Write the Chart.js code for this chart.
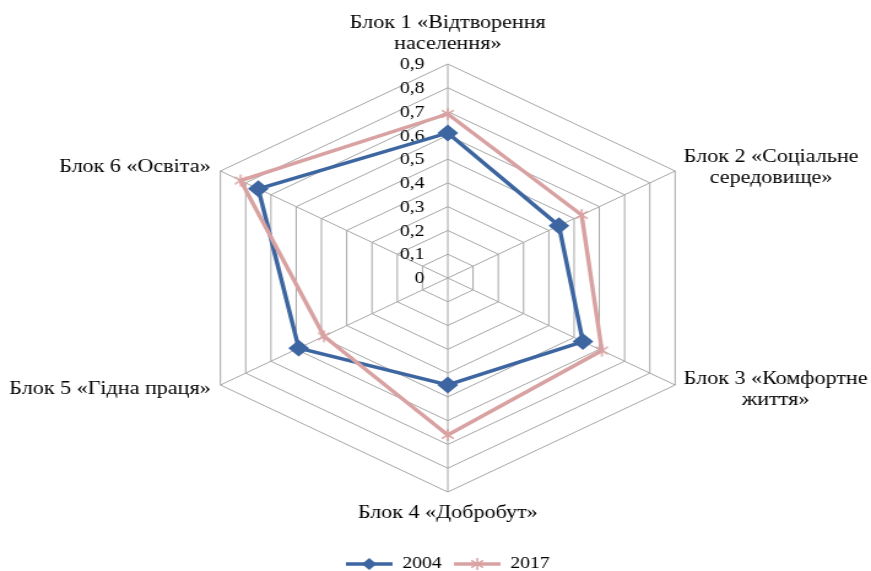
<!DOCTYPE html>
<html>
<head>
<meta charset="utf-8">
<script src="https://cdn.jsdelivr.net/npm/chart.js@4/dist/chart.umd.min.js"></script>
<style>
    body { margin: 0; background: #fff; overflow: hidden; }
    #wrap { position: absolute; left: 0; top: 0; width: 710px; height: 571px; transform: scaleX(1.22676); transform-origin: 0 0; }
</style>
</head>
<body>
<div id="wrap"><canvas id="chartBloques"></canvas></div>
<script>
// Datos del gráfico
const categories = [
    ['Блок 1 «Відтворення', 'населення»'],
    ['Блок 2 «Соціальне', 'середовище»'],
    ['Блок 3 «Комфортне', 'життя»'],
    ['Блок 4 «Добробут»'],
    ['Блок 5 «Гідна праця»'],
    ['Блок 6 «Освіта»']
];
const seriesNames = ['2004', '2017'];
const values2004 = [0.61, 0.44, 0.535, 0.45, 0.59, 0.75];
const values2017 = [0.69, 0.53, 0.61, 0.66, 0.49, 0.82];
const tickLabels = ['0', '0,1', '0,2', '0,3', '0,4', '0,5', '0,6', '0,7', '0,8', '0,9'];

const azul = '#3d66a1';
const rosa = '#d9a2a2';
const gris = '#a6a6a6';
const fuente = '"Liberation Serif", "Times New Roman", serif';

// marcador estrella (X con línea vertical)
function estrella(size, color) {
    const c = document.createElement('canvas');
    c.width = size; c.height = size;
    const g = c.getContext('2d');
    g.strokeStyle = color;
    g.lineWidth = 1.5;
    const m = size / 2, r = size / 2 - 1;
    g.beginPath();
    g.moveTo(m, m - r); g.lineTo(m, m + r);
    g.moveTo(m - r * 0.8, m - r * 0.6); g.lineTo(m + r * 0.8, m + r * 0.6);
    g.moveTo(m - r * 0.8, m + r * 0.6); g.lineTo(m + r * 0.8, m - r * 0.6);
    g.stroke();
    return c;
}

// iconos de leyenda: línea con marcador
function iconoLeyenda(color, tipo) {
    const c = document.createElement('canvas');
    c.width = 38; c.height = 14;
    const g = c.getContext('2d');
    g.strokeStyle = color;
    g.lineWidth = 3.5;
    g.beginPath();
    g.moveTo(0, 7); g.lineTo(38, 7);
    g.stroke();
    if (tipo === 'rombo') {
        g.fillStyle = color;
        g.beginPath();
        g.moveTo(19, 1); g.lineTo(25, 7); g.lineTo(19, 13); g.lineTo(13, 7);
        g.closePath();
        g.fill();
    } else {
        g.drawImage(estrella(14, color), 12, 0);
    }
    return c;
}
const iconos = [iconoLeyenda(azul, 'rombo'), iconoLeyenda(rosa, 'estrella')];

// etiquetas de ejes y de categorías
const etiquetas = {
    id: 'etiquetas',
    beforeDatasetsDraw(chart) {
        const s = chart.scales.r;
        const ctx = chart.ctx;
        ctx.save();
        ctx.font = '16px ' + fuente;
        ctx.fillStyle = '#000';
        ctx.textAlign = 'right';
        ctx.textBaseline = 'middle';
        s.ticks.forEach((t, i) => {
            const y = s.yCenter - s.getDistanceFromCenterForValue(t.value);
            ctx.fillText(tickLabels[i], s.xCenter - 19, y + 1);
        });
        ctx.restore();
    },
    afterDraw(chart) {
        const s = chart.scales.r;
        const ctx = chart.ctx;
        const lh = 21;
        ctx.save();
        ctx.font = '18px ' + fuente;
        ctx.fillStyle = '#000';
        ctx.textBaseline = 'middle';
        categories.forEach((lines, i) => {
            const p = s.getPointPosition(i, s.drawingArea);
            const n = lines.length;
            if (Math.abs(p.x - s.xCenter) < 1) {
                ctx.textAlign = 'center';
                const y0 = p.y < s.yCenter ? p.y - 20 - (n - 1) * lh : p.y + 21;
                lines.forEach((t, k) => ctx.fillText(t, p.x, y0 + k * lh));
            } else {
                const yc = p.y + (p.y < s.yCenter ? -3.5 : 4.5);
                const y0 = yc - (n - 1) * lh / 2;
                if (p.x > s.xCenter) {
                    const w = Math.max(...lines.map(t => ctx.measureText(t).width));
                    ctx.textAlign = 'center';
                    lines.forEach((t, k) => ctx.fillText(t, p.x + 7 + w / 2, y0 + k * lh));
                } else {
                    ctx.textAlign = 'right';
                    lines.forEach((t, k) => ctx.fillText(t, p.x - 8, y0 + k * lh));
                }
            }
        });
        ctx.restore();
    }
};

const ctxBloques = document.getElementById('chartBloques').getContext('2d');
new Chart(ctxBloques, {
    type: 'radar',
    data: {
        labels: categories,
        datasets: [{
            label: seriesNames[0],
            data: values2004,
            borderColor: azul,
            backgroundColor: azul,
            borderWidth: 3.5,
            fill: false,
            pointStyle: 'rectRot',
            pointRadius: 6,
            pointBackgroundColor: azul,
            pointBorderColor: azul,
            order: 1
        }, {
            label: seriesNames[1],
            data: values2017,
            borderColor: rosa,
            backgroundColor: rosa,
            borderWidth: 3.5,
            fill: false,
            pointStyle: estrella(14, rosa),
            pointRadius: 7,
            order: 0
        }]
    },
    options: {
        responsive: true,
        maintainAspectRatio: false,
        animation: false,
        layout: { padding: { left: 151, right: 131, top: 10, bottom: -11 } },
        elements: { line: { tension: 0 } },
        scales: {
            r: {
                min: 0,
                max: 0.9,
                ticks: { display: false, stepSize: 0.1 },
                grid: { color: gris, lineWidth: 1 },
                angleLines: { color: gris, lineWidth: 1 },
                pointLabels: { display: false }
            }
        },
        plugins: {
            tooltip: { enabled: false },
            legend: {
                display: true,
                position: 'bottom',
                labels: {
                    usePointStyle: true,
                    pointStyleWidth: 38,
                    padding: 10,
                    color: '#000',
                    font: { family: fuente, size: 16 },
                    generateLabels: (chart) => chart.data.datasets.map((ds, i) => ({
                        text: ds.label,
                        pointStyle: iconos[i],
                        fillStyle: ds.borderColor,
                        strokeStyle: ds.borderColor,
                        lineWidth: 0,
                        fontColor: '#000',
                        hidden: false,
                        datasetIndex: i
                    }))
                }
            }
        }
    },
    plugins: [etiquetas]
});
</script>
</body>
</html>
